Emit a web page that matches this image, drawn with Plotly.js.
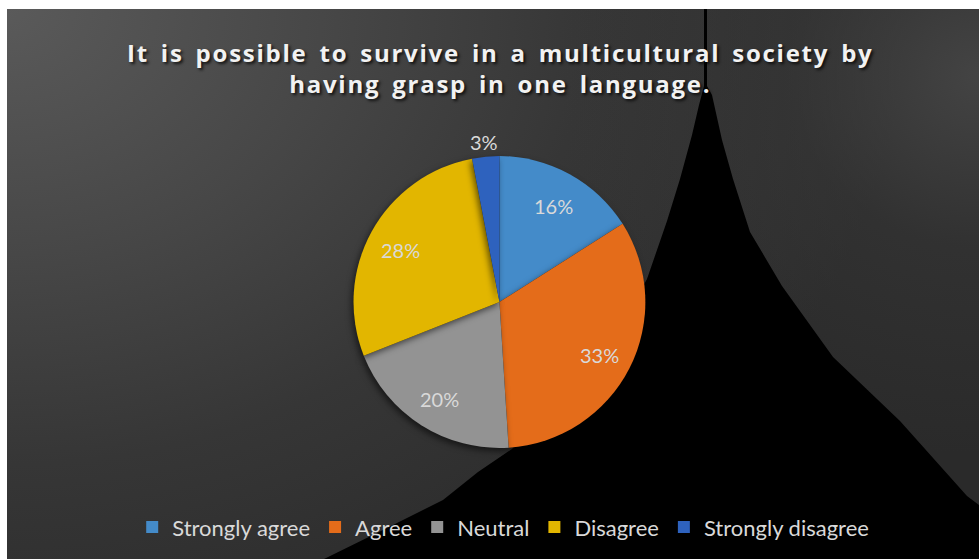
<!DOCTYPE html>
<html>
<head>
<meta charset="utf-8">
<script src="https://cdn.plot.ly/plotly-3.0.1.min.js"></script>
<style>
  html, body { margin: 0; padding: 0; background: #ffffff; }
  #wrap { position: relative; width: 979px; height: 559px; overflow: hidden; background: #ffffff; }
  #bg {
    position: absolute; left: 7px; top: 9px; width: 972px; height: 550px;
    background:
      radial-gradient(ellipse 420px 380px at 100% 12%, rgba(72,72,72,0.85) 0%, rgba(60,60,60,0.4) 45%, rgba(45,45,45,0) 100%),
      radial-gradient(ellipse 900px 700px at 0% 0%, #5a5a5a 0%, #474747 35%, #363636 65%, #2a2a2a 100%);
  }
  #shape { position: absolute; left: 0; top: 0; }
  #chart { position: absolute; left: 0; top: 0; width: 979px; height: 559px; }
  .gtitle { letter-spacing: 1.75px; word-spacing: 4px; }
  .pielayer .trace path.surface { filter: drop-shadow(-2px 3px 3px rgba(0,0,0,0.55)); }
</style>
</head>
<body>
<div id="wrap">
  <div id="bg"></div>
  <svg id="shape" width="979" height="559" xmlns="http://www.w3.org/2000/svg">
    <path d="M704,9 L707,9 L707,86 L712,95 L722,140 L733,179 L750,232 L782,286 L833,357 L900,421 L967,496 L979,505 L979,559 L324,559 L387,528 L443,500 L478,472 L512,449 L560,400 L600,350 L630,310 L647,279 L667,221 L680,179 L692,135 L699,105 L704,86 Z" fill="#000000"/>
  </svg>
  <div id="chart"></div>
</div>
<script>
  var categories = ["Strongly agree", "Agree", "Neutral", "Disagree", "Strongly disagree"];
  var values = [16, 33, 20, 28, 3];
  var sliceColors = ["#448bc9", "#e46c1a", "#939393", "#e2b600", "#2e62be"];
  var labelOutside = [false, false, false, false, true];
  var chartTitle = "It is possible to survive in a multicultural society by<br>having grasp in one language.";

  var W = 979, H = 559;
  var pieDomain = { x: [0.3611, 0.6592], y: [0.1986, 0.7209] };
  var labelFont = { family: "Lato, 'Open Sans', sans-serif", size: 20, color: "#d9d9d9" };

  // Data-label placement derived from the slice values (Excel-style: 77% of radius inside, just beyond edge outside)
  var cx = (pieDomain.x[0] + pieDomain.x[1]) / 2;
  var cy = (pieDomain.y[0] + pieDomain.y[1]) / 2;
  var R = Math.min((pieDomain.x[1] - pieDomain.x[0]) * W, (pieDomain.y[1] - pieDomain.y[0]) * H) / 2;
  var total = values.reduce(function (a, b) { return a + b; }, 0);
  var annotations = [];
  var cum = 0;
  for (var i = 0; i < values.length; i++) {
    var frac = values[i] / total;
    var mid = (cum + frac / 2) * 2 * Math.PI;
    cum += frac;
    var r = labelOutside[i] ? R + 17 : R * 0.77;
    annotations.push({
      xref: "paper", yref: "paper",
      x: cx + r * Math.sin(mid) / W,
      y: cy + r * Math.cos(mid) / H,
      xanchor: "center", yanchor: "middle",
      yshift: -2,
      text: Math.round(frac * 100) + "%",
      showarrow: false,
      font: labelFont
    });
  }

  var trace = {
    type: "pie",
    labels: categories,
    values: values,
    sort: false,
    direction: "clockwise",
    rotation: 0,
    marker: { colors: sliceColors, line: { width: 0 } },
    textinfo: "none",
    hoverinfo: "label+percent",
    domain: pieDomain
  };

  var layout = {
    width: W,
    height: H,
    margin: { l: 0, r: 0, t: 0, b: 0 },
    paper_bgcolor: "rgba(0,0,0,0)",
    plot_bgcolor: "rgba(0,0,0,0)",
    title: {
      text: chartTitle,
      x: 0.511,
      xanchor: "center",
      y: 0.889,
      yanchor: "middle",
      font: { family: "'Open Sans', sans-serif", size: 24, weight: 700, color: "#f2f2f2",
              shadow: "2px 2px 3px rgba(0,0,0,0.75)" }
    },
    annotations: annotations,
    showlegend: true,
    legend: {
      orientation: "h",
      x: 0.514,
      xanchor: "center",
      y: 0.057,
      yanchor: "middle",
      font: { family: "Lato, 'Open Sans', sans-serif", size: 22, color: "#d9d9d9" },
      itemwidth: 30,
      traceorder: "normal",
      bgcolor: "rgba(0,0,0,0)"
    }
  };

  Plotly.newPlot("chart", [trace], layout, { displayModeBar: false, staticPlot: true });
</script>
</body>
</html>
